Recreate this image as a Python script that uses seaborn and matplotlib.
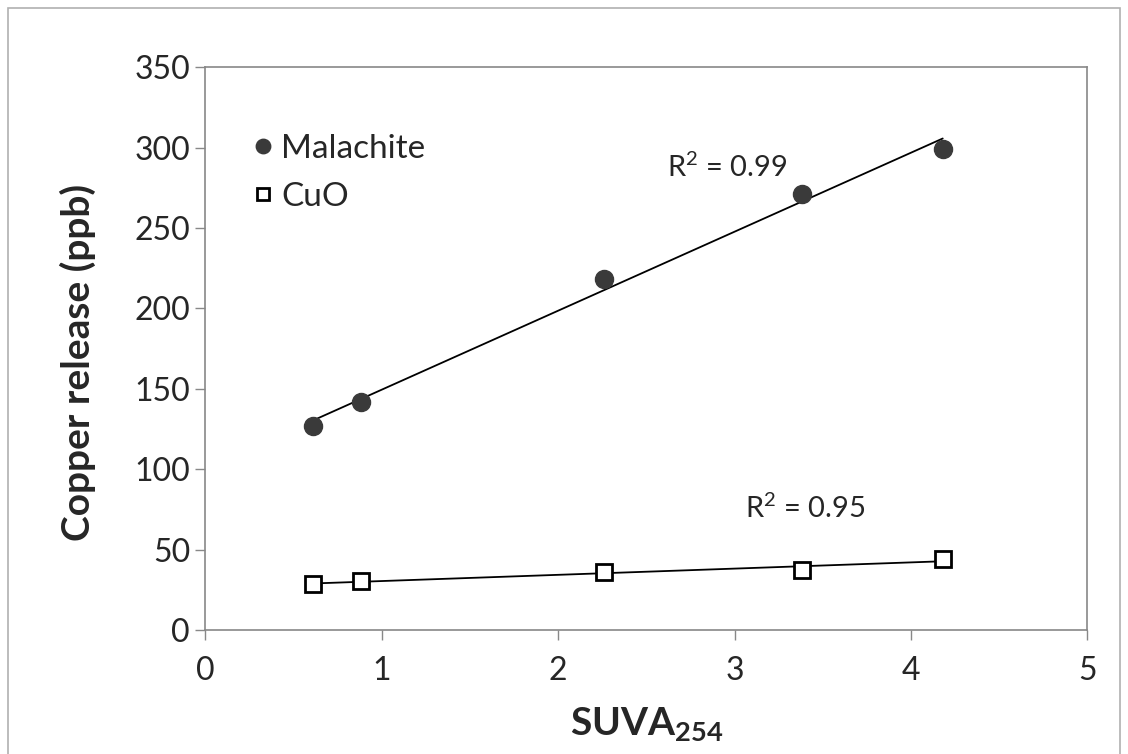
import numpy as np
import pandas as pd
import matplotlib
matplotlib.use('Agg')
import matplotlib.pyplot as plt
import seaborn as sns
from matplotlib.patches import Rectangle

# data
suva = [0.61, 0.88, 2.26, 3.38, 4.18]
malachite = [127, 142, 218, 271, 299]
cuo = [28.5, 30.5, 36, 37.5, 44]
r2_labels = ['R$^2$ = 0.99', 'R$^2$ = 0.95']

df = pd.DataFrame({'SUVA': suva * 2,
                   'release': malachite + cuo,
                   'solid': ['Malachite'] * 5 + ['CuO'] * 5})

sns.set_style('white')
plt.rcParams['font.family'] = ['Lato', 'DejaVu Sans']
plt.rcParams['mathtext.fontset'] = 'custom'
plt.rcParams['mathtext.rm'] = 'Lato'
plt.rcParams['mathtext.bf'] = 'Lato:bold'

fig = plt.figure(figsize=(11.28, 7.54), dpi=100)
ax = fig.add_axes([0.182, 0.1645, 0.782, 0.7465])

# outer frame of the figure
fig.patches.append(Rectangle((8 / 1128, -0.05), 1112 / 1128, 1.05 - 8 / 754,
                             transform=fig.transFigure, fill=False,
                             edgecolor='#b0b0b0', linewidth=1.2))

# trend lines
for name in ['Malachite', 'CuO']:
    sns.regplot(data=df[df.solid == name], x='SUVA', y='release', ax=ax,
                scatter=False, ci=None, truncate=True,
                line_kws={'color': 'black', 'linewidth': 1.3})

m = df[df.solid == 'Malachite']
c = df[df.solid == 'CuO']
h1, = ax.plot(m.SUVA, m.release, 'o', color='#3a3a3a', markersize=13,
              markeredgecolor='#3a3a3a', zorder=4, label='Malachite')
h2, = ax.plot(c.SUVA, c.release, 's', color='white', markersize=11.5,
              markeredgecolor='black', markeredgewidth=2, zorder=4, label='CuO')

ax.legend(handles=[h1, h2], loc='upper left', bbox_to_anchor=(0.012, 0.935),
          frameon=False, fontsize=24, handletextpad=0.05, labelspacing=0.55,
          handlelength=1.0, markerscale=0.8)

ax.text(2.96, 288, r2_labels[0], fontsize=21, ha='center', va='center')
ax.text(3.40, 76, r2_labels[1], fontsize=21, ha='center', va='center')

ax.set_xlim(0, 5)
ax.set_ylim(0, 350)
ax.set_xticks(range(0, 6))
ax.set_yticks(range(0, 351, 50))
ax.tick_params(axis='both', labelsize=23, length=7, width=1, color='#888888',
               direction='out', bottom=True, left=True)
ax.tick_params(axis='y', pad=4)
ax.tick_params(axis='x', pad=12)
for s in ax.spines.values():
    s.set_color('#888888')
    s.set_linewidth(1.2)

ax.set_xlabel(r'SUVA$_{\mathbf{254}}$', fontsize=28, fontweight='bold')
ax.set_ylabel('Copper release (ppb)', fontsize=28, fontweight='bold')
ax.xaxis.set_label_coords(0.5, -0.135)
ax.yaxis.set_label_coords(-0.124, 0.476)

plt.savefig('out.png', dpi=100)
